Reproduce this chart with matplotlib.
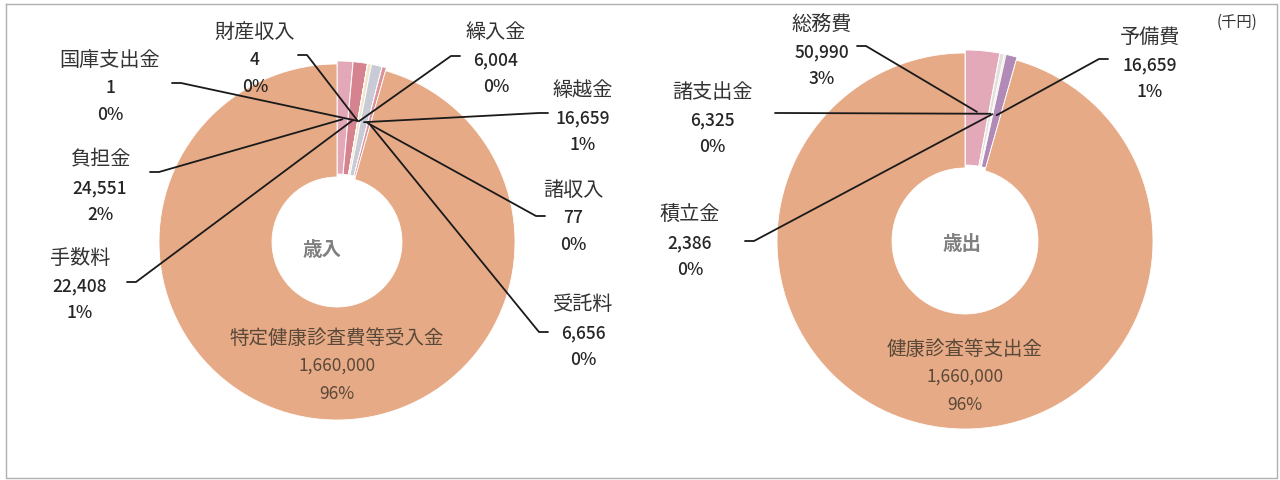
import numpy as np
import matplotlib
matplotlib.use('Agg')
import matplotlib.pyplot as plt

plt.rcParams['font.family'] = ['Noto Sans CJK JP', 'DejaVu Sans']

W, H = 1280, 481

# 歳入 (千円)
in_names = ['負担金', '手数料', '国庫支出金', '財産収入', '繰入金', '繰越金', '諸収入', '受託料', '特定健康診査費等受入金']
in_values = [24551, 22408, 1, 4, 6004, 16659, 77, 6656, 1660000]
in_colors = ['#E2A8B8', '#D5848F', '#E8C9D0', '#EEE4C4', '#F1E6C8', '#C8CBD6', '#E0B0B0', '#DC939C', '#E6AA86']

# 歳出 (千円)
out_names = ['総務費', '諸支出金', '積立金', '予備費', '健康診査等支出金']
out_values = [50990, 6325, 2386, 16659, 1660000]
out_colors = ['#E3A9B8', '#E2E0DD', '#EFE3C6', '#B28AB8', '#E6AA86']

# layout: label centre x, middle-line y, leader end x, leader end y (pixels from top)
in_layout = {
    '負担金': (100, 188, 150, 173),
    '手数料': (80, 286, 127, 283),
    '国庫支出金': (110, 88, 172, 84),
    '財産収入': (255, 60, 298, 56),
    '繰入金': (496, 60, 460, 57),
    '繰越金': (583, 118, 548, 114),
    '諸収入': (573, 218, 545, 217),
    '受託料': (583, 333, 548, 333),
}
out_layout = {
    '総務費': (822, 52, 857, 47),
    '諸支出金': (712, 120, 775, 114),
    '積立金': (690, 243, 745, 242),
    '予備費': (1150, 65, 1108, 60),
}


def pcts(vals):
    # excel style: round so that the parts add up to 100
    v = np.array(vals, dtype=float)
    raw = v / v.sum() * 100
    fl = np.floor(raw)
    rest = int(100 - fl.sum())
    order = np.argsort(-(raw - fl))
    fl[order[:rest]] += 1
    return fl.astype(int)


def donut(ax, names, vals, colors, layout, cx, cy, R, hole, big_y, title, title_xy):
    cym = H - cy
    expl = [3 if v < max(vals) else 0 for v in vals]
    ax.pie(vals, colors=colors, startangle=90, counterclock=False,
           center=(cx, cym), radius=R, explode=expl, frame=True,
           wedgeprops=dict(width=R - hole, edgecolor='white', linewidth=0.6))
    p = pcts(vals)
    fr = np.cumsum([0] + list(vals)) / sum(vals)
    for i, n in enumerate(names):
        if n not in layout:
            continue
        lx, ly, ex, ey = layout[n]
        mid = np.deg2rad(90 - 360 * (fr[i] + fr[i + 1]) / 2)
        ax_x = cx + 0.69 * R * np.cos(mid)
        ax_y = cym + 0.69 * R * np.sin(mid)
        tick = 9 if ex < ax_x else -9
        ax.plot([ex, ex + tick, ax_x], [H - ey, H - ey, ax_y], color='#1a1a1a', lw=1.3,
                solid_capstyle='round', zorder=5)
        ax.text(lx, H - (ly - 28), n, ha='center', va='center', fontsize=14.5, color='#333333')
        ax.text(lx, H - ly, f'{vals[i]:,}', ha='center', va='center', fontsize=12.5,
                color='#262626', fontweight='medium')
        ax.text(lx, H - (ly + 27), f'{p[i]}%', ha='center', va='center', fontsize=12.5,
                color='#262626', fontweight='medium')
    b = int(np.argmax(vals))
    big = [names[b], f'{vals[b]:,}', f'{p[b]}%']
    sizes = [14, 12.5, 12.5]
    for k, s in enumerate(big):
        ax.text(cx, H - (big_y + (k - 1) * 28), s, ha='center', va='center', fontsize=sizes[k],
                color='#5a4838', zorder=6)
    ax.text(title_xy[0], H - title_xy[1], title, ha='center', va='center', fontsize=14,
            fontweight='bold', color='#7f7f7f')


fig = plt.figure(figsize=(W / 100, H / 100), dpi=100)
ax = fig.add_axes([0, 0, 1, 1])

donut(ax, in_names, in_values, in_colors, in_layout, 337, 243, 178, 65, 366, '歳入', (322, 250))
donut(ax, out_names, out_values, out_colors, out_layout, 965, 242, 188, 73, 377, '歳出', (962, 245))

ax.text(1237, H - 22, '(千円)', ha='center', va='center', fontsize=11, color='#333333')

# frame around the chart
ax.plot([6, 1277, 1277, 6, 6], [H - 5, H - 5, H - 479, H - 479, H - 5], color='#b0b0b0', lw=1)

ax.set_xlim(0, W)
ax.set_ylim(0, H)
ax.set_aspect('equal')
ax.axis('off')

plt.savefig('out.png', dpi=100)
